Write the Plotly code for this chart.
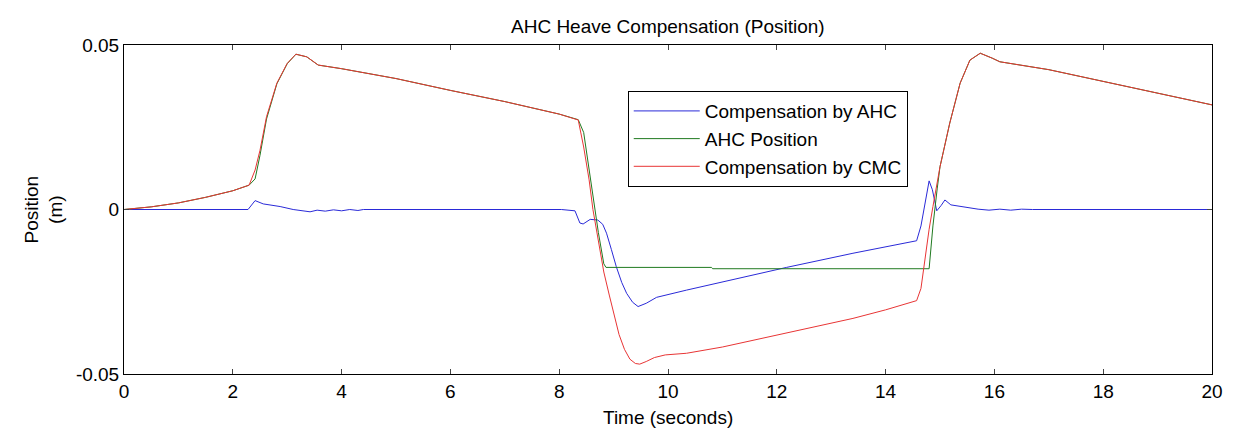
import plotly.graph_objects as go

# Compensation by CMC (red)
t_cmc = [0, 0.5, 1.0, 1.5, 2.0, 2.3, 2.41, 2.5, 2.62, 2.81, 3.0, 3.16, 3.36, 3.57, 4.0, 5.0, 6.0, 7.0, 8.0, 8.35,
         8.45, 8.55, 8.62, 8.72, 8.82, 8.92, 9.0, 9.1, 9.2, 9.3, 9.4, 9.48, 9.6, 9.75, 9.95, 10.34, 11.0, 12.18, 13.4,
         14.0, 14.57, 14.65, 14.73, 14.8, 14.87, 15.0, 15.18, 15.37, 15.55, 15.74, 15.96, 16.1, 17.0, 18.0, 19.0, 20.0]
y_cmc = [0, 0.0008, 0.002, 0.0037, 0.0057, 0.0074, 0.012, 0.018, 0.0282, 0.0384, 0.0444, 0.0472, 0.0464, 0.0439,
         0.0428, 0.0398, 0.0362, 0.0328, 0.029, 0.0272,
         0.019, 0.009, 0.0, -0.01, -0.019, -0.026, -0.0315, -0.038, -0.0425, -0.0455, -0.0468, -0.047, -0.0462,
         -0.045, -0.0442, -0.0437, -0.0418, -0.0376, -0.0331,
         -0.0305, -0.0277, -0.024, -0.0143, -0.006, 0.0009, 0.013, 0.0263, 0.0384, 0.0454, 0.0475, 0.046, 0.0449,
         0.0425, 0.0389, 0.0355, 0.0318]

# AHC Position (green)
t_pos = [0, 0.5, 1.0, 1.5, 2.0, 2.3, 2.41, 2.5, 2.62, 2.81, 3.0, 3.16, 3.36, 3.57, 4.0, 5.0, 6.0, 7.0, 8.0, 8.35,
         8.45, 8.55, 8.62, 8.72, 8.82, 8.86, 10.8, 10.82, 14.8, 14.87, 14.95, 15.0, 15.18, 15.37, 15.55, 15.74,
         15.96, 16.1, 17.0, 18.0, 19.0, 20.0]
y_pos = [0, 0.0008, 0.002, 0.0037, 0.0057, 0.0074, 0.0093, 0.0165, 0.0275, 0.0382, 0.0443, 0.0472, 0.0464, 0.0439,
         0.0428, 0.0398, 0.0362, 0.0328, 0.029, 0.0273,
         0.0234, 0.012, 0.003, -0.007, -0.0165, -0.0176, -0.0176, -0.018, -0.018, -0.005, 0.0065, 0.013, 0.0263,
         0.0384, 0.0454, 0.0475, 0.046, 0.0449, 0.0425, 0.0389, 0.0355, 0.0318]

# Compensation by AHC (blue)
t_ahc = [0, 2.28, 2.41, 2.56, 2.87, 3.11, 3.42, 3.55, 3.7, 3.85, 4.0, 4.15, 4.3, 4.4, 8.04, 8.29, 8.38, 8.44,
         8.57, 8.71, 8.8, 8.87, 8.96, 9.05, 9.15, 9.24, 9.35, 9.45, 9.6, 9.79, 10.34, 12.18, 13.4, 14.57, 14.65,
         14.72, 14.8, 14.86, 14.94, 15.02, 15.09, 15.2, 15.37, 15.52, 15.7, 15.9, 16.1, 16.3, 16.5, 16.7, 20.0]
y_ahc = [0, 0, 0.0027, 0.0017, 0.0009, 0.0, -0.0007, -0.0002, -0.0005, -0.0001, -0.0004, 0.0, -0.0003, 0.0,
         0.0, -0.0004, -0.0041, -0.0044, -0.003, -0.0032, -0.0045, -0.0072, -0.0122, -0.0174, -0.0222, -0.0255,
         -0.0282, -0.0295, -0.0285, -0.0267,
         -0.0245, -0.0176, -0.0133, -0.0095, -0.005, 0.002, 0.0087, 0.006, -0.0004, 0.0012, 0.0029, 0.0014,
         0.0009, 0.0004, 0.0001, -0.0002, 0.0001, -0.0002, 0.0001, 0.0, 0.0]

x_ticks = [0, 2, 4, 6, 8, 10, 12, 14, 16, 18, 20]
y_ticks = [-0.05, 0, 0.05]
y_tick_labels = ["-0.05", "0", "0.05"]

FONT = "Arial, Liberation Sans, sans-serif"
FS = 19

fig = go.Figure()
fig.add_trace(go.Scatter(x=t_ahc, y=y_ahc, mode="lines", name="Compensation by AHC",
                         line=dict(color="#2a2ad8", width=1)))
fig.add_trace(go.Scatter(x=t_pos, y=y_pos, mode="lines", name="AHC Position",
                         line=dict(color="#207a20", width=1)))
fig.add_trace(go.Scatter(x=t_cmc, y=y_cmc, mode="lines", name="Compensation by CMC",
                         line=dict(color="#e83535", width=1)))

fig.update_layout(
    width=1244, height=442,
    margin=dict(l=124, r=32, t=45, b=68),
    paper_bgcolor="white", plot_bgcolor="white",
    font=dict(family=FONT, size=FS, color="black"),
    showlegend=True,
    legend=dict(x=0.463, y=0.86, xanchor="left", yanchor="top",
                bgcolor="white", bordercolor="black", borderwidth=1,
                font=dict(family=FONT, size=FS, color="black"),
                tracegroupgap=0, itemwidth=66),
    annotations=[
        dict(text="AHC Heave Compensation (Position)", xref="paper", yref="paper",
             x=0.5, y=1.0, yshift=19, showarrow=False, xanchor="center", yanchor="middle",
             font=dict(family=FONT, size=FS)),
        dict(text="Time (seconds)", xref="paper", yref="paper", x=0.5, y=0, yshift=-43,
             showarrow=False, xanchor="center", yanchor="middle", font=dict(family=FONT, size=FS)),
        dict(text="Position<br>(m)", xref="paper", yref="paper", x=0, xshift=-81, y=0.5,
             textangle=-90, showarrow=False, xanchor="center", yanchor="middle",
             font=dict(family=FONT, size=FS)),
    ],
)
fig.update_xaxes(range=[0, 20], tickvals=x_ticks, ticks="inside", ticklen=5, tickcolor="#444",
                 showline=True, linecolor="black", linewidth=1, mirror="all",
                 showgrid=False, zeroline=False, tickfont=dict(size=FS))
fig.update_yaxes(range=[-0.05, 0.05], tickvals=y_ticks, ticktext=y_tick_labels, ticks="inside",
                 ticklen=5, tickcolor="#444", showline=True, linecolor="black", linewidth=1, mirror="all",
                 showgrid=False, zeroline=False, tickfont=dict(size=FS))

fig.write_html("out.html")
